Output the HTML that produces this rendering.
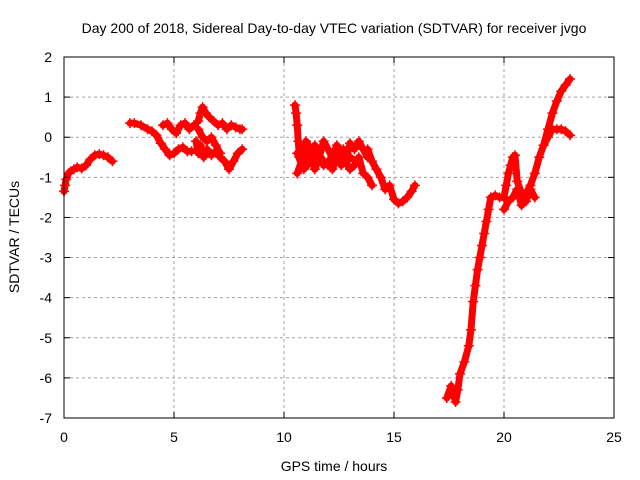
<!DOCTYPE html>
<html><head><meta charset="utf-8"><style>
html,body{margin:0;padding:0;background:#fff}
svg{display:block;font-family:"Liberation Sans",sans-serif}
</style></head><body>
<svg id="chart" width="640" height="480">
<rect width="640" height="480" fill="#fff"/>
<text x="334" y="33" font-size="14" text-anchor="middle">Day 200 of 2018, Sidereal Day-to-day VTEC variation (SDTVAR) for receiver jvgo</text>
<text x="334" y="471" font-size="14" text-anchor="middle">GPS time / hours</text>
<text transform="translate(19,237) rotate(-90)" font-size="14" text-anchor="middle">SDTVAR / TECUs</text>
<g id="grid"></g><g id="data"></g><g id="axes"></g>
</svg>
<script>
const xTicks=[0,5,10,15,20,25];
const yTicks=[2,1,0,-1,-2,-3,-4,-5,-6,-7];
const segA_t=[0,0.05,0.1,0.2,0.3,0.45,0.6,0.8,1.0,1.2,1.4,1.6,1.8,2.0,2.2];
const segA_v=[-1.35,-1.2,-1.05,-0.9,-0.85,-0.8,-0.75,-0.78,-0.7,-0.55,-0.45,-0.42,-0.45,-0.5,-0.6];
const segB1_t=[3.0,3.2,3.5,3.8,4.0,4.2,4.4,4.6,4.8,5.0,5.2,5.4,5.6,5.8];
const segB1_v=[0.35,0.35,0.3,0.2,0.15,0.05,-0.15,-0.3,-0.45,-0.4,-0.3,-0.25,-0.35,-0.35];
const segB2_t=[4.5,4.7,4.9,5.1,5.3,5.5,5.7,5.9];
const segB2_v=[0.3,0.35,0.2,0.1,0.3,0.35,0.2,0.3];
const segB3_t=[6.1,6.2,6.3,6.45,6.6,6.8,7.0,7.2,7.4,7.6,7.8,8.0,8.1];
const segB3_v=[0.4,0.6,0.75,0.6,0.5,0.4,0.3,0.35,0.2,0.3,0.25,0.2,0.2];
const segB4_t=[6.0,6.1,6.2,6.35,6.5,6.7,6.9,7.1,7.3,7.5,7.7,7.9,8.1];
const segB4_v=[-0.1,-0.4,-0.2,-0.5,-0.3,-0.45,-0.35,-0.5,-0.6,-0.8,-0.6,-0.4,-0.3];
const segB5_t=[6.1,6.3,6.5,6.7,6.9,7.1];
const segB5_v=[0.2,0.0,-0.1,0.0,-0.2,-0.4];
const segC1_t=[10.5,10.55,10.6,10.65,10.7,10.8,11.0,11.2,11.4,11.6,11.8,12.0,12.2,12.4,12.6,12.8,13.0,13.2,13.4,13.6,13.8,14.0];
const segC1_v=[0.8,0.6,0.3,-0.1,-0.5,-0.3,-0.6,-0.4,-0.8,-0.5,-0.7,-0.6,-0.8,-0.5,-0.7,-0.6,-0.8,-0.7,-0.5,-0.9,-1.0,-1.2];
const segC2_t=[10.6,10.8,11.0,11.2,11.4,11.6,11.8,12.0,12.2,12.4,12.6,12.8,13.0,13.2,13.4,13.6,13.8];
const segC2_v=[-0.9,-0.6,-0.1,-0.3,-0.2,-0.5,-0.1,-0.3,-0.5,-0.2,-0.4,-0.6,-0.15,-0.3,-0.1,-0.3,-0.5];
const segC4_t=[10.6,10.9,11.2,11.5,11.8,12.1,12.4,12.7,13.0,13.3];
const segC4_v=[-0.4,-0.8,-0.6,-0.35,-0.6,-0.75,-0.45,-0.3,-0.5,-0.6];
const segC3_t=[13.8,14.0,14.2,14.4,14.6,14.8,15.0,15.2,15.4,15.6,15.8,15.95];
const segC3_v=[-0.3,-0.6,-0.8,-1.0,-1.3,-1.2,-1.55,-1.65,-1.6,-1.5,-1.35,-1.2];
const segD1_t=[17.4,17.6,17.8,17.9,18.0,18.2,18.4,18.5,18.6,18.7,18.8,18.9,19.0,19.1,19.2,19.3,19.4,19.6,19.8,20.0];
const segD1_v=[-6.5,-6.2,-6.6,-6.3,-5.9,-5.6,-5.2,-4.8,-4.1,-3.7,-3.3,-3.0,-2.7,-2.4,-2.1,-1.8,-1.5,-1.45,-1.5,-1.5];
const segD2_t=[20.0,20.1,20.2,20.3,20.4,20.5,20.6,20.8,21.0,21.2,21.4];
const segD2_v=[-1.5,-1.2,-0.9,-0.7,-0.5,-0.45,-1.1,-1.4,-1.6,-1.3,-1.5];
const segD3_t=[20.0,20.2,20.4,20.6,20.8,21.0,21.2,21.4,21.6,21.8,22.0,22.2,22.4,22.6,22.8,23.0];
const segD3_v=[-1.8,-1.6,-1.5,-1.3,-1.7,-1.4,-1.2,-0.9,-0.5,-0.2,0.2,0.6,0.9,1.15,1.3,1.45];
const segD4_t=[21.8,22.0,22.2,22.4,22.6,22.8,23.0];
const segD4_v=[-0.2,0.0,0.2,0.2,0.2,0.15,0.05];
const series=[[segA_t,segA_v],[segB1_t,segB1_v],[segB2_t,segB2_v],[segB3_t,segB3_v],[segB4_t,segB4_v],[segB5_t,segB5_v],[segC1_t,segC1_v],[segC2_t,segC2_v],[segC4_t,segC4_v],[segC3_t,segC3_v],[segD1_t,segD1_v],[segD2_t,segD2_v],[segD3_t,segD3_v],[segD4_t,segD4_v]];
const X0=64,X1=614,Y0=418,Y1=57;
const sx=t=>X0+(t-0)/25*(X1-X0);
const sy=v=>Y0-(v+7)/9*(Y0-Y1);
const NS="http://www.w3.org/2000/svg";
function mk(tag,attrs,parent){const e=document.createElementNS(NS,tag);for(const k in attrs)e.setAttribute(k,attrs[k]);parent.appendChild(e);return e;}
const grid=document.getElementById('grid'),axes=document.getElementById('axes'),data=document.getElementById('data');
xTicks.forEach(t=>{const x=sx(t);
 if(t>0&&t<25){const l=mk('line',{x1:x,x2:x,y1:Y1,y2:Y0,stroke:'#a0a0a0','stroke-dasharray':'3,3'},grid);
 
 }
 mk('line',{x1:x,x2:x,y1:Y0,y2:Y0-6,stroke:'#000'},axes);
 mk('line',{x1:x,x2:x,y1:Y1,y2:Y1+6,stroke:'#000'},axes);
 const tx=mk('text',{x:x,y:Y0+24,'font-size':14,'text-anchor':'middle'},axes);tx.textContent=t;
 
 });
yTicks.forEach(v=>{const y=sy(v);
 if(v>-7&&v<2){const l=mk('line',{x1:X0,x2:X1,y1:y,y2:y,stroke:'#a0a0a0','stroke-dasharray':'3,3'},grid);
 
 }
 mk('line',{x1:X0,x2:X0+6,y1:y,y2:y,stroke:'#000'},axes);
 mk('line',{x1:X1,x2:X1-6,y1:y,y2:y,stroke:'#000'},axes);
 const tx=mk('text',{x:X0-12,y:y+5,'font-size':14,'text-anchor':'end'},axes);tx.textContent=v;
 
 });
const fr=mk('rect',{x:X0,y:Y1,width:X1-X0,height:Y0-Y1,fill:'none',stroke:'#000'},axes);


series.forEach(([ts,vs])=>{
 const g=mk('g',{},data);
 
 
 mk('polyline',{points:ts.map((t,i)=>sx(t)+','+sy(vs[i])).join(' '),fill:'none',stroke:'#f00','stroke-width':7,'stroke-linejoin':'round','stroke-linecap':'round'},g);
 ts.forEach((t,i)=>{const x=sx(t),y=sy(vs[i]);
  const p=mk('path',{d:`M${x-5},${y}H${x+5}M${x},${y-5}V${y+5}`,stroke:'#f00','stroke-width':1.5},g);
  
  });
});
</script>
</body></html>
